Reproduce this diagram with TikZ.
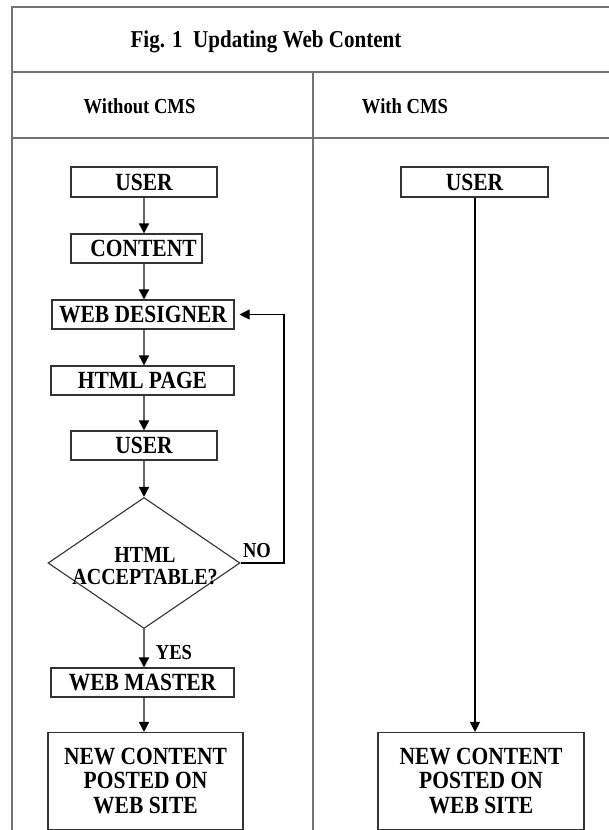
\documentclass[tikz,border=0pt]{standalone}
\usepackage{fontspec}
% tall, narrow Times-like bold lettering
\setmainfont{Liberation Serif}[FakeStretch=0.87]
\usetikzlibrary{arrows.meta,shapes.geometric}
\begin{document}
\begin{tikzpicture}[x=1pt,y=-1pt,
  frame/.style={draw=black!55, line width=2pt},
  stepbox/.style={draw=black!80, line width=1.1pt, inner sep=0pt,
    font=\fontsize{24.7}{24.5}\selectfont\bfseries, align=center},
  flow/.style={draw=black!60, line width=1.6pt,
    -{Triangle[width=10pt,length=10pt,color=black]}},
  loop/.style={draw=black, line width=1.1pt,
    -{Triangle[width=10pt,length=10pt]}},
  head/.style={font=\fontsize{21.4}{22}\selectfont\bfseries},
  tag/.style={font=\fontsize{21.3}{22}\selectfont\bfseries}
]
\useasboundingbox (0,0) rectangle (608,830);
\fill[white] (0,0) rectangle (608,830);

% table frame
\draw[frame] (12,836) -- (12,7) -- (614,7);
\draw[frame] (12,72) -- (614,72);
\draw[frame] (12,138) -- (614,138);
\draw[frame] (313,72) -- (313,836);

\node[font=\fontsize{24.2}{26}\selectfont\bfseries] (title) at (266,42) {Fig. 1\ \ Updating Web Content};
\node[head] (hl) at (139.5,106) {Without CMS};
\node[head] (hr) at (405,106) {With CMS};

% axes of the two flows
\coordinate (axL) at (144,0);
\coordinate (axR) at (475,0);

% left flow: without CMS
\node[stepbox, minimum width=146pt, minimum height=30pt] (u1) at (144,182) {USER};
\node[stepbox, minimum width=131pt, minimum height=29pt] (ct) at (136.5,248.5) {\hspace*{14pt}CONTENT};
\node[stepbox, minimum width=182pt, minimum height=29pt] (wd) at (143,314.5) {WEB DESIGNER};
\node[stepbox, minimum width=183pt, minimum height=29pt] (hp) at (142.5,380.5) {HTML PAGE};
\node[stepbox, minimum width=146pt, minimum height=29pt] (u2) at (144,445.5) {USER};
\node[diamond, draw=black!80, line width=1.1pt, inner sep=0pt,
      minimum width=192pt, minimum height=131pt] (dec) at (144,563) {};
\node[font=\fontsize{23}{22}\selectfont\bfseries, align=center] (dtx) at (145,566) {HTML\\ACCEPTABLE?};
\node[stepbox, minimum width=183pt, minimum height=29pt] (wm) at (142.5,682.5) {WEB MASTER};
\node[stepbox, minimum width=195pt, minimum height=97pt] (fl) at (145.5,781) {NEW CONTENT\\POSTED ON\\WEB SITE};

\draw[flow] (u1.south -| axL) -- (ct.north -| axL);
\draw[flow] (ct.south -| axL) -- (wd.north -| axL);
\draw[flow] (wd.south -| axL) -- (hp.north -| axL);
\draw[flow] (hp.south -| axL) -- (u2.north -| axL);
\draw[flow] (u2.south -| axL) -- (dec.north);
\draw[flow] (dec.south) -- (wm.north -| axL);
\draw[flow] (wm.south -| axL) -- (fl.north -| axL);

\coordinate (lp) at (284,0);
\draw[loop, shorten >=5pt] (dec.east) -- (dec.east -| lp) -- (wd.east -| lp) -- (wd.east);
\node[tag] (no) at (257,551) {NO};
\node[tag] (yes) at (174,653) {YES};

% right flow: with CMS
\node[stepbox, minimum width=147pt, minimum height=30pt] (ur) at (474.5,182) {USER};
\node[stepbox, minimum width=206pt, minimum height=97pt] (fr) at (481,781) {NEW CONTENT\\POSTED ON\\WEB SITE};
\draw[loop] (ur.south -| axR) -- (fr.north -| axR);
\end{tikzpicture}
\end{document}
